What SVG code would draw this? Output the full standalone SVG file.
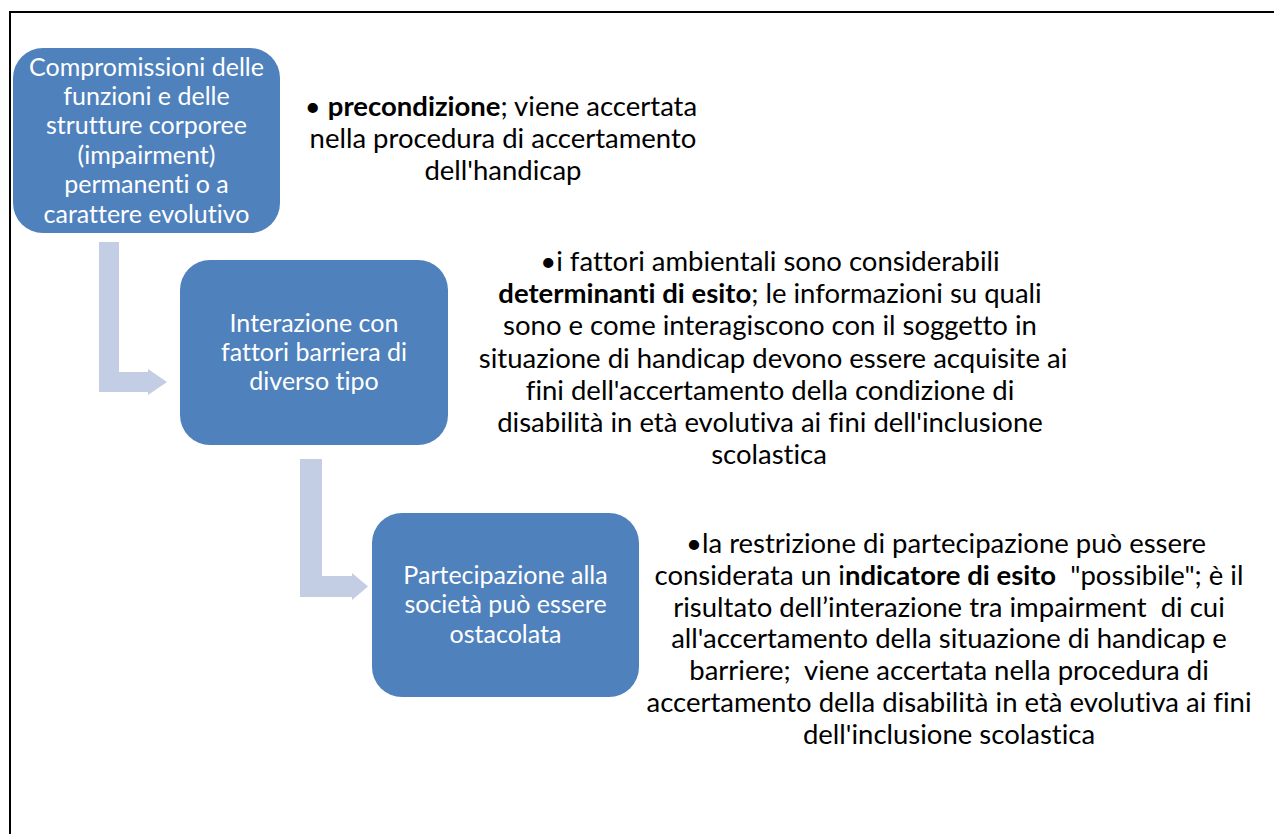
<svg xmlns="http://www.w3.org/2000/svg" width="1274" height="834" viewBox="0 0 1274 834">
<style>
.box{fill:#4f81bd;}
.arrow{fill:#c3cde3;}
.bt{font-family:Lato,"Open Sans",sans-serif;font-size:25px;fill:#ffffff;text-anchor:middle;font-variant-ligatures:none;}
.st{font-family:Lato,"Open Sans",sans-serif;font-size:27.5px;fill:#000000;text-anchor:middle;white-space:pre;font-variant-ligatures:none;}
.b{font-weight:bold;}
</style>
<rect x="0" y="0" width="1274" height="834" fill="#ffffff"/>
<rect x="10" y="12" width="1300" height="900" fill="none" stroke="#000000" stroke-width="2"/>
<g id="connectors">
<path class="arrow" d="M99 242 H119 V372 H148 V369 L167 382 L148 395 V392 H99 Z"/>
<path class="arrow" d="M300 459 H322 V576 H352 V573 L368 586.5 L352 600 V597 H300 Z"/>
</g>
<g id="node1">
<rect class="box" x="13" y="48" width="267" height="185" rx="30"/>
<text class="bt"><tspan x="146.5" y="75.5">Compromissioni delle</tspan><tspan x="146.5" y="104.9">funzioni e delle</tspan><tspan x="146.5" y="134.3">strutture corporee</tspan><tspan x="146.5" y="163.7">(impairment)</tspan><tspan x="146.5" y="193.1">permanenti o a</tspan><tspan x="146.5" y="222.5">carattere evolutivo</tspan></text>
</g>
<g id="node2">
<rect class="box" x="180" y="260" width="268" height="185" rx="30"/>
<text class="bt"><tspan x="314" y="331.5">Interazione con</tspan><tspan x="314" y="360.5">fattori barriera di</tspan><tspan x="314" y="389.5">diverso tipo</tspan></text>
</g>
<g id="node3">
<rect class="box" x="372" y="513" width="267" height="184" rx="30"/>
<text class="bt"><tspan x="505.5" y="583.5">Partecipazione alla</tspan><tspan x="505.5" y="613">società può essere</tspan><tspan x="505.5" y="642.5">ostacolata</tspan></text>
</g>
<g id="note1">
<text class="st"><tspan x="501" y="116">• <tspan class="b">precondizione</tspan>; viene accertata</tspan><tspan x="503" y="148">nella procedura di accertamento</tspan><tspan x="503" y="180">dell'handicap</tspan></text>
</g>
<g id="note2">
<text class="st"><tspan x="770" y="271">•i fattori ambientali sono considerabili</tspan><tspan x="770" y="303.2"><tspan class="b">determinanti di esito</tspan>; le informazioni su quali</tspan><tspan x="770" y="335.4">sono e come interagiscono con il soggetto in</tspan><tspan x="773" y="367.6">situazione di handicap devono essere acquisite ai</tspan><tspan x="770" y="399.8">fini dell'accertamento della condizione di</tspan><tspan x="770" y="432">disabilità in età evolutiva ai fini dell'inclusione</tspan><tspan x="769" y="464.2">scolastica</tspan></text>
</g>
<g id="note3">
<text class="st"><tspan x="946" y="553">•la restrizione di partecipazione può essere</tspan><tspan x="949" y="584.8">considerata un i<tspan class="b">ndicatore di esito</tspan>  "possibile"; è il</tspan><tspan x="949" y="616.6">risultato dell’interazione tra impairment  di cui</tspan><tspan x="949" y="648.4">all'accertamento della situazione di handicap e</tspan><tspan x="949" y="680.2">barriere;  viene accertata nella procedura di</tspan><tspan x="949" y="712">accertamento della disabilità in età evolutiva ai fini</tspan><tspan x="949" y="743.8">dell'inclusione scolastica</tspan></text>
</g>
</svg>
